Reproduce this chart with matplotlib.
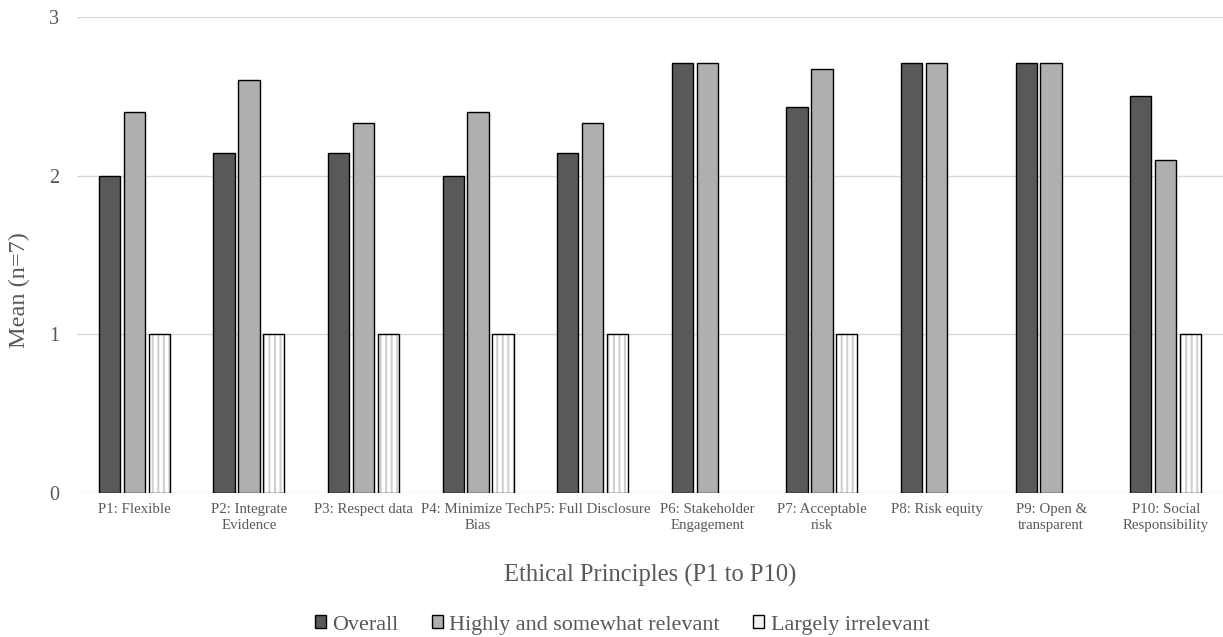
import matplotlib
matplotlib.use("Agg")
import matplotlib.pyplot as plt
import numpy as np
from matplotlib.patches import Patch

categories = ["P1: Flexible", "P2: Integrate\nEvidence", "P3: Respect data",
              "P4: Minimize Tech\nBias", "P5: Full Disclosure", "P6: Stakeholder\nEngagement",
              "P7: Acceptable\nrisk", "P8: Risk equity", "P9: Open &\ntransparent",
              "P10: Social\nResponsibility"]
overall = [2.0, 2.14, 2.14, 2.0, 2.14, 2.71, 2.43, 2.71, 2.71, 2.5]
relevant = [2.4, 2.6, 2.33, 2.4, 2.33, 2.71, 2.67, 2.71, 2.71, 2.1]
irrelevant = [1, 1, 1, 1, 1, 0, 1, 0, 0, 1]
series_names = ["Overall", "Highly and somewhat relevant", "Largely irrelevant"]

plt.rcParams['font.family'] = ['Liberation Serif', 'DejaVu Serif']
plt.rcParams['hatch.linewidth'] = 1.5
txt = '#595959'

fig = plt.figure(figsize=(12.23, 6.37), dpi=100)
ax = fig.add_axes([77/1223, 1 - 493/637, 1 - 77/1223, (493 - 17)/637])

x = np.arange(len(categories))
w = 0.185
off = 0.218
ax.bar(x - off, overall, w, color='#595959', edgecolor='black', linewidth=1, zorder=3)
ax.bar(x, relevant, w, color='#afafaf', edgecolor='black', linewidth=1, zorder=3)
irr = np.array(irrelevant, dtype=float)
m = irr > 0
ax.bar(x[m] + off, irr[m], w, color='white', edgecolor='#d0d0d0', hatch='|||', linewidth=0, zorder=3)
ax.bar(x[m] + off, irr[m], w, fill=False, edgecolor='black', linewidth=1, zorder=4)

ax.set_xlim(-0.5, len(categories) - 0.5)
ax.set_ylim(0, 3)
ax.set_yticks([0, 1, 2, 3])
ax.yaxis.grid(True, color='#d9d9d9', linewidth=1, zorder=0)
for s in ax.spines.values():
    s.set_visible(False)
ax.tick_params(axis='both', length=0, colors=txt)
ax.tick_params(axis='y', labelsize=14.5, pad=13)
ax.set_xticks(x)
ax.set_xticklabels(categories, fontsize=10.7, linespacing=1.3, color=txt)
ax.tick_params(axis='x', pad=7)
ax.set_ylabel("Mean (n=7)", fontsize=17.5, color=txt, va='center')
ax.yaxis.set_label_coords(-(77 - 19) / 1146, (493 - 290) / 476)
ax.set_xlabel("Ethical Principles (P1 to P10)", fontsize=17.7, color=txt)
ax.xaxis.set_label_coords(0.5, -(575 - 493) / 476)
ax.xaxis.label.set_va('center')

handles = [Patch(facecolor='#595959', edgecolor='black'),
           Patch(facecolor='#afafaf', edgecolor='black'),
           Patch(facecolor='#f2f2f2', edgecolor='black')]
fig.legend(handles, series_names, loc='center', bbox_to_anchor=(622/1223, 1 - 625/637),
           ncol=3, frameon=False, fontsize=15.9, handlelength=0.5, handleheight=0.5,
           handletextpad=0.3, columnspacing=1.5, labelcolor=txt)

fig.savefig("out.png", dpi=100)
